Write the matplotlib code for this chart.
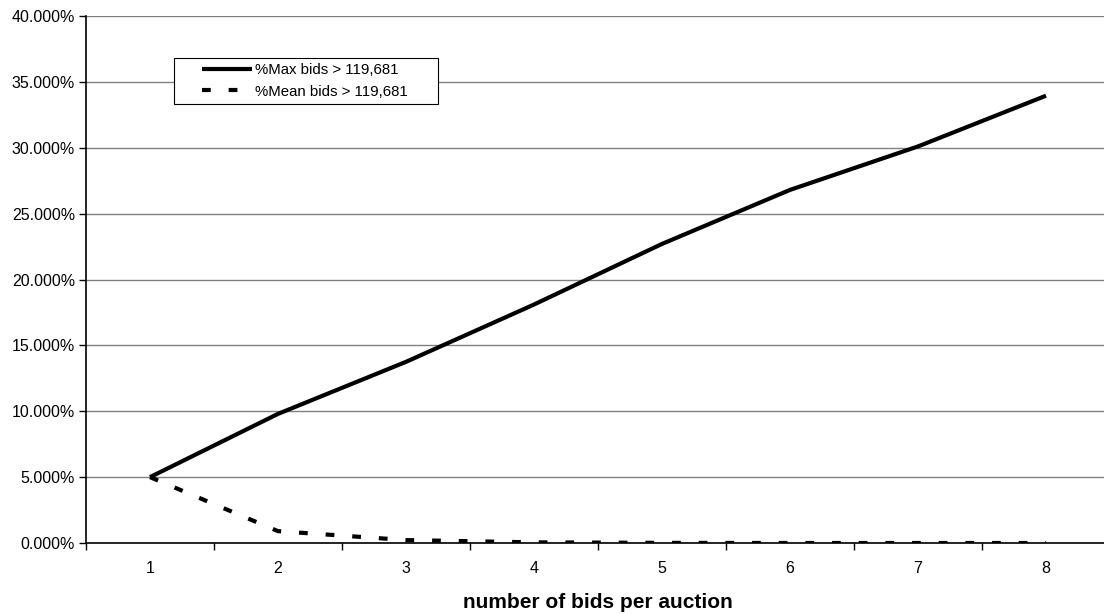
import matplotlib
matplotlib.use("Agg")
import matplotlib.pyplot as plt
from matplotlib.ticker import FuncFormatter, FixedLocator
from matplotlib.patches import Rectangle

categories = [1, 2, 3, 4, 5, 6, 7, 8]
max_bids = [5.0, 9.8, 13.75, 18.1, 22.7, 26.8, 30.1, 33.95]
mean_bids = [5.0, 0.9, 0.22, 0.05, 0.01, 0.0, 0.0, 0.0]
y_ticks = [0, 5, 10, 15, 20, 25, 30, 35, 40]

plt.rcParams['font.family'] = ['Liberation Sans', 'DejaVu Sans']

fig = plt.figure(figsize=(11.04, 6.14), dpi=100)
W, H = 1104, 614
left, right, top, bottom = 86, 1110, 16, 543
ax = fig.add_axes([left / W, (H - bottom) / H, (right - left) / W, (bottom - top) / H])

ax.plot(categories, max_bids, color='black', lw=3, solid_capstyle='butt',
        label='%Max bids > 119,681')
ax.plot(categories, mean_bids, color='black', lw=3, linestyle=(0, (2.1, 4.3)),
        dash_capstyle='butt', label='%Mean bids > 119,681')

ax.set_xlim(0.5, 8.5)
ax.set_ylim(0, 40)
ax.set_yticks(y_ticks)
ax.yaxis.set_major_formatter(FuncFormatter(lambda v, p: f"{v:.3f}%"))
ax.set_xticks(categories)
ax.set_xticklabels([str(c) for c in categories])
ax.xaxis.set_minor_locator(FixedLocator([c + 0.5 for c in [0] + categories[:-1]]))
ax.tick_params(axis='x', which='major', length=0, pad=13, labelsize=11.5)
ax.tick_params(axis='x', which='minor', length=5, width=1, direction='out')
ax.tick_params(axis='y', length=5, width=1, direction='out', labelsize=11.5, pad=3)

ax.grid(axis='y', color='#808080', lw=1)
ax.set_axisbelow(True)
for s in ['top', 'right']:
    ax.spines[s].set_visible(False)
ax.spines['left'].set_linewidth(1.2)
ax.spines['bottom'].set_linewidth(1.2)

ax.set_xlabel('number of bids per auction', fontsize=15, fontweight='bold', labelpad=12)

# legend box (frame drawn separately for Excel-like wide padding)
aw, ah = right - left, bottom - top
box = Rectangle(((174 - left) / aw, (bottom - 104) / ah), 264 / aw, 46 / ah,
                transform=ax.transAxes, facecolor='white', edgecolor='black',
                lw=0.8, zorder=4)
ax.add_patch(box)
leg = ax.legend(loc='upper left', bbox_to_anchor=((202 - left) / aw, (bottom - 63) / ah),
                fontsize=10.8, frameon=False,
                handlelength=3.3, handletextpad=0.25, borderpad=0, labelspacing=0.5,
                borderaxespad=0)
leg.set_zorder(5)

fig.savefig('out.png', dpi=100)
